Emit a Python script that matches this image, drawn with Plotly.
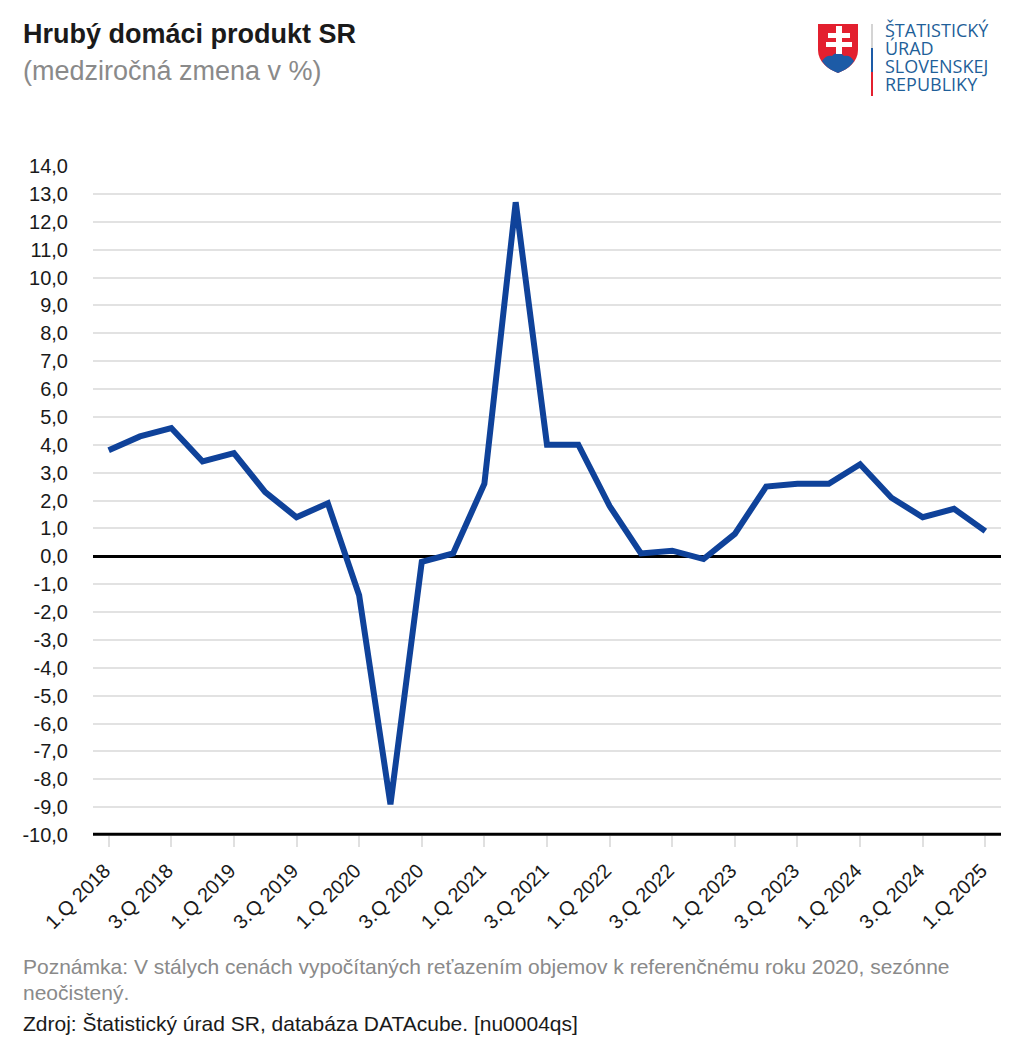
import plotly.graph_objects as go

quarters = ["1.Q 2018", "2.Q 2018", "3.Q 2018", "4.Q 2018",
            "1.Q 2019", "2.Q 2019", "3.Q 2019", "4.Q 2019",
            "1.Q 2020", "2.Q 2020", "3.Q 2020", "4.Q 2020",
            "1.Q 2021", "2.Q 2021", "3.Q 2021", "4.Q 2021",
            "1.Q 2022", "2.Q 2022", "3.Q 2022", "4.Q 2022",
            "1.Q 2023", "2.Q 2023", "3.Q 2023", "4.Q 2023",
            "1.Q 2024", "2.Q 2024", "3.Q 2024", "4.Q 2024",
            "1.Q 2025"]
hdp = [3.8, 4.3, 4.6, 3.4,
       3.7, 2.3, 1.4, 1.9,
       -1.4, -8.9, -0.2, 0.1,
       2.6, 12.7, 4.0, 4.0,
       1.8, 0.1, 0.2, -0.1,
       0.8, 2.5, 2.6, 2.6,
       3.3, 2.1, 1.4, 1.7,
       0.9]
y_ticks = list(range(-10, 15))
y_labels = [f"{v},0" for v in y_ticks]
x_ticks = quarters[::2]

W, H = 1024, 1053
L, R, T, B = 93, 1001, 166, 835


# page pixels -> paper coordinates, used for the header, logo and footer
def px(x):
    return (x - L) / (R - L)


def py(y):
    return (B - y) / (B - T)


def text(x, y, s, size, color, font="Liberation Sans"):
    fig.add_annotation(x=px(x), y=py(y), xref="paper", yref="paper", text=s, showarrow=False,
                       xanchor="left", yanchor="middle", align="left",
                       font=dict(family=font, size=size, color=color))


def to_paper(path):
    out, n = [], 0
    for tok in path.replace(",", " ").split():
        if tok[0] in "MLCZ":
            out.append(tok[0])
            tok = tok[1:]
        if tok:
            n += 1
            out.append(f"{px(float(tok)) if n % 2 else py(float(tok)):.5f}")
    return " ".join(out)


fig = go.Figure()
fig.add_trace(go.Scatter(x=quarters, y=hdp, mode="lines", showlegend=False,
                         line=dict(color="#0f429a", width=6)))

fig.update_layout(
    width=W, height=H, paper_bgcolor="white", plot_bgcolor="white",
    margin=dict(l=L, r=W - R, t=T, b=H - B, autoexpand=False),
    font=dict(family="Liberation Sans", size=20, color="#1a1a1a"),
    xaxis=dict(type="category", categoryorder="array", categoryarray=quarters, range=[-0.5, 28.5],
               tickmode="array", tickvals=x_ticks, ticktext=x_ticks, tickangle=-45,
               ticks="outside", ticklen=11, tickwidth=2, tickcolor="#e0e0e0",
               ticklabelstandoff=4, ticklabelshift=-4,
               showgrid=False, showline=False, zeroline=False),
    yaxis=dict(range=[-10, 14], tickmode="array", tickvals=y_ticks, ticktext=y_labels,
               ticks="outside", ticklen=20, tickcolor="rgba(0,0,0,0)",
               showgrid=True, gridcolor="#e2e2e2", gridwidth=2,
               zeroline=True, zerolinecolor="black", zerolinewidth=3, showline=False),
)

# bottom axis line sits on the -10 gridline
fig.add_shape(type="line", xref="paper", yref="paper", x0=0, x1=1, y0=0.001, y1=0.001,
              line=dict(color="black", width=3))

text(21, 34, "<b>Hrubý domáci produkt SR</b>", 27, "#1a1a1a")
text(21, 71, "(medziročná zmena v %)", 27, "#8a8a8a")
text(21, 966, "Poznámka: V stálych cenách vypočítaných reťazením objemov k referenčnému roku 2020, sezónne", 21, "#8a8a8a")
text(21, 992, "neočistený.", 21, "#8a8a8a")
text(21, 1023, "Zdroj: Štatistický úrad SR, databáza DATAcube. [nu0004qs]", 21, "#1a1a1a")

# logo
shapes = [
    ("M818,24 L858,24 L858,50 C858,62 848,69 838,73 C828,69 818,62 818,50 Z", "#e3202f"),
    ("M822,61 C825,56 829,55 832,56 C835,52 841,52 844,56 C848,55 851,56 854,61 C851,66 846,70 838,73 C830,70 825,66 822,61 Z", "#1d5ba6"),
    ("M836,26 L842,26 L842,33 L850,33 L850,38 L842,38 L842,42 L852,42 L852,47 L842,47 L842,54 L836,54 L836,47 L826,47 L826,42 L836,42 L836,38 L828,38 L828,33 L836,33 Z", "white"),
]
for path, color in shapes:
    fig.add_shape(type="path", xref="paper", yref="paper", path=to_paper(path),
                  fillcolor=color, line_width=0, layer="above")

for y0, y1, color in [(24, 48, "#d4d4d4"), (48, 72, "#1d5ba6"), (72, 96, "#e3202f")]:
    fig.add_shape(type="rect", xref="paper", yref="paper", x0=px(871), x1=px(873), y0=py(y0), y1=py(y1),
                  fillcolor=color, line_width=0)

for i, s in enumerate(["ŠTATISTICKÝ", "ÚRAD", "SLOVENSKEJ", "REPUBLIKY"]):
    text(883, 30 + i * 18, s, 18, "#1f5f99", font="Open Sans")

fig.write_html("out.html", post_script="document.body.style.margin = '0';",
               config=dict(displayModeBar=False))
